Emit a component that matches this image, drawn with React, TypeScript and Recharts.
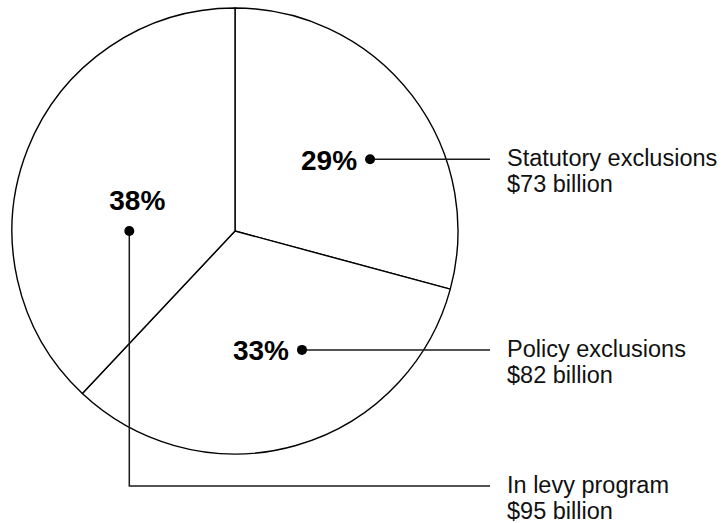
import { PieChart, Pie, Cell } from 'recharts';

// Levy exposure breakdown ($ billion)
const CATEGORIES = ['Statutory exclusions', 'Policy exclusions', 'In levy program'];
const AMOUNTS = [73, 82, 95];
const AMOUNT_LABELS = ['$73 billion', '$82 billion', '$95 billion'];

const data = CATEGORIES.map((name, i) => ({ name, value: AMOUNTS[i], amount: AMOUNT_LABELS[i] }));

// where each callout dot sits inside its slice (polar, relative to pie centre / radius)
// and how the percent text sits next to the dot
const CALLOUTS = [
    { angle: 28, r: 0.686, pct: 'left', elbowY: null },
    { angle: -60.6, r: 0.612, pct: 'left', elbowY: null },
    { angle: 180, r: 0.474, pct: 'above', elbowY: 486 },
];

const LINE_END_X = 490;
const TEXT_X = 507;
const FONT = '"Liberation Sans", Arial, Helvetica, sans-serif';

const renderCallout = (props: any) => {
    const { cx, cy, outerRadius, index, percent, payload } = props;
    const c = CALLOUTS[index];
    const rad = (c.angle * Math.PI) / 180;
    const dx = cx + outerRadius * c.r * Math.cos(rad);
    const dy = cy - outerRadius * c.r * Math.sin(rad);
    const rowY = c.elbowY ?? dy;
    const pct = `${Math.round(percent * 100)}%`;

    const path = c.elbowY != null
        ? `M${dx},${dy} V${rowY} H${LINE_END_X}`
        : `M${dx},${dy} H${LINE_END_X}`;

    return (
        <g key={`callout-${index}`}>
            <path d={path} fill="none" stroke="#1a1a1a" strokeWidth={1.5} />
            <circle cx={dx} cy={dy} r={5} fill="#000" />
            {c.pct === 'left' ? (
                <text x={dx - 13} y={dy + 10.5} textAnchor="end" fontFamily={FONT} fontWeight="bold" fontSize={28} fill="#000">
                    {pct}
                </text>
            ) : (
                <text x={dx + 8} y={dy - 21.5} textAnchor="middle" fontFamily={FONT} fontWeight="bold" fontSize={28} fill="#000">
                    {pct}
                </text>
            )}
            <text x={TEXT_X} y={rowY + 7} fontFamily={FONT} fontSize={23.5} fill="#111">
                {payload.name}
            </text>
            <text x={TEXT_X} y={rowY + 33} fontFamily={FONT} fontSize={23.5} fill="#111">
                {payload.amount}
            </text>
        </g>
    );
};

export default function App() {
    return (
        <div style={{ position: 'absolute', left: 0, top: 0, width: 722, height: 523, background: '#fff' }}>
            <PieChart width={722} height={523} margin={{ top: 0, right: 0, bottom: 0, left: 0 }}>
                <Pie
                    data={data}
                    dataKey="value"
                    nameKey="name"
                    cx={235}
                    cy={231}
                    outerRadius={223}
                    startAngle={90}
                    endAngle={-270}
                    stroke="#000"
                    strokeWidth={1.4}
                    label={renderCallout}
                    labelLine={false}
                    isAnimationActive={false}
                >
                    {data.map((d) => (
                        <Cell key={d.name} fill="#fff" />
                    ))}
                </Pie>
            </PieChart>
        </div>
    );
}
